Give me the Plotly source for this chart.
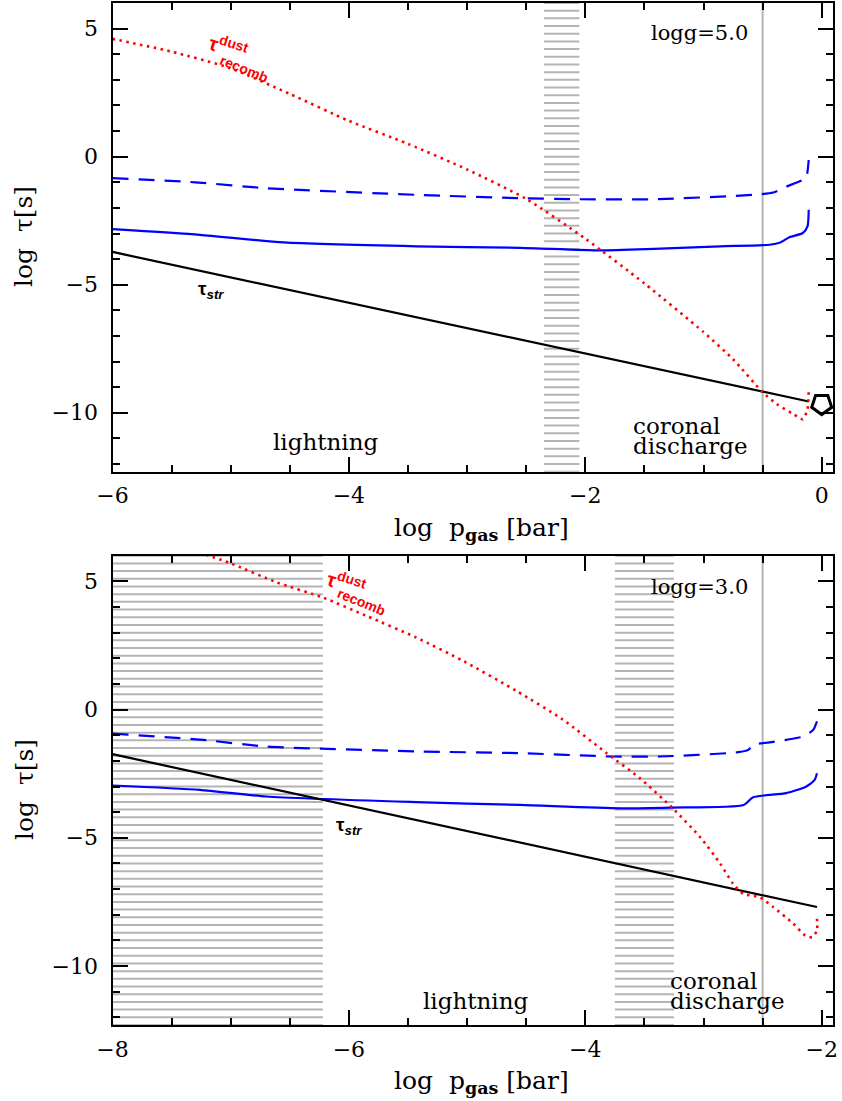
import numpy as np
import plotly.graph_objects as go

# ---------------- data ----------------
# Panel 1: logg = 5.0
tstr5_x = [-6.0, -0.11]
tstr5_y = [-3.72, -9.56]

red5_x = [-6.0, -5.5, -5.0, -4.5, -4.0, -3.5, -3.0, -2.5, -2.0, -1.5, -1.0, -0.75, -0.5, -0.38, -0.24, -0.16, -0.12, -0.11]
red5_y = [4.6, 4.1, 3.45, 2.45, 1.4, 0.5, -0.5, -1.65, -3.2, -4.95, -6.85, -7.91, -9.2, -9.66, -10.05, -10.25, -9.86, -9.14]

dash5_x = [-6.0, -5.3, -4.7, -3.43, -2.55, -2.1, -1.42, -0.58, -0.41, -0.30, -0.16, -0.13, -0.11]
dash5_y = [-0.84, -1.0, -1.23, -1.49, -1.62, -1.66, -1.66, -1.49, -1.40, -1.17, -0.91, -0.80, -0.13]

solid5_x = [-6.0, -5.26, -4.55, -3.43, -2.55, -1.88, -1.42, -0.86, -0.44, -0.35, -0.27, -0.16, -0.12, -0.11]
solid5_y = [-2.83, -3.05, -3.35, -3.50, -3.56, -3.66, -3.60, -3.50, -3.44, -3.35, -3.14, -2.98, -2.72, -2.07]

marker5_x = [0.0]
marker5_y = [-9.66]

hatch5 = [(-2.35, -2.05)]
vline5 = -0.5

# Panel 2: logg = 3.0
tstr3_x = [-8.0, -2.04]
tstr3_y = [-1.74, -7.70]

red3_x = [-7.21, -7.01, -6.61, -6.22, -5.85, -5.43, -5.03, -4.58, -4.19, -3.82, -3.54, -3.26, -3.02,
          -2.86, -2.75, -2.66, -2.59, -2.52, -2.41, -2.24, -2.14, -2.08, -2.04, -2.04]
red3_y = [6.04, 5.72, 4.96, 4.37, 3.65, 2.81, 1.89, 0.72, -0.39, -1.70, -2.67, -3.85, -5.02,
          -6.0, -6.79, -7.20, -7.25, -7.33, -7.70, -8.35, -8.81, -8.88, -8.61, -8.16]

dash3_x = [-8.0, -7.26, -6.70, -5.43, -4.55, -3.76, -3.37, -2.72, -2.62, -2.58, -2.44, -2.15, -2.07, -2.04]
dash3_y = [-0.94, -1.17, -1.44, -1.63, -1.70, -1.83, -1.83, -1.67, -1.57, -1.37, -1.28, -1.04, -0.78, -0.46]

solid3_x = [-8.0, -7.26, -6.70, -5.43, -4.55, -3.71, -3.28, -2.66, -2.58, -2.30, -2.13, -2.06, -2.04]
solid3_y = [-2.96, -3.13, -3.39, -3.61, -3.72, -3.85, -3.82, -3.72, -3.42, -3.26, -3.00, -2.74, -2.48]

hatch3 = [(-8.0, -6.22), (-3.75, -3.25)]
vline3 = -2.5

xrange5 = [-6.0, 0.093]
xrange3 = [-8.0, -1.907]
yrange = [-12.3, 6.0]

# ---------------- styling ----------------
SERIF = "DejaVu Serif"
SANS = "Liberation Sans"
GRAY = "#b4b4b4"
W, H = 842, 1101

fig = go.Figure()


def hatch_trace(regions, xa, ya):
    levels = np.arange(yrange[1], yrange[0] - 0.001, -0.3)
    xs, ys = [], []
    for (a, b) in regions:
        for lv in levels:
            xs += [a, b, None]
            ys += [lv, lv, None]
    return go.Scatter(x=xs, y=ys, mode="lines", line=dict(color=GRAY, width=2),
                      xaxis=xa, yaxis=ya, hoverinfo="skip", showlegend=False)


def vline_trace(x0, xa, ya):
    return go.Scatter(x=[x0, x0], y=yrange, mode="lines", line=dict(color=GRAY, width=2),
                      xaxis=xa, yaxis=ya, showlegend=False)


for (hatch, vl, tx, ty, rx, ry, dx, dy, sx, sy, xa, ya) in [
    (hatch5, vline5, tstr5_x, tstr5_y, red5_x, red5_y, dash5_x, dash5_y, solid5_x, solid5_y, "x", "y"),
    (hatch3, vline3, tstr3_x, tstr3_y, red3_x, red3_y, dash3_x, dash3_y, solid3_x, solid3_y, "x2", "y2"),
]:
    fig.add_trace(hatch_trace(hatch, xa, ya))
    fig.add_trace(vline_trace(vl, xa, ya))
    fig.add_trace(go.Scatter(x=sx, y=sy, mode="lines", line=dict(color="blue", width=2.2, shape="spline", smoothing=0.6),
                             xaxis=xa, yaxis=ya, showlegend=False))
    fig.add_trace(go.Scatter(x=dx, y=dy, mode="lines", line=dict(color="blue", width=2.2, dash="16px,10px", shape="spline", smoothing=0.6),
                             xaxis=xa, yaxis=ya, showlegend=False))
    fig.add_trace(go.Scatter(x=tx, y=ty, mode="lines", line=dict(color="black", width=2.2),
                             xaxis=xa, yaxis=ya, showlegend=False))
    fig.add_trace(go.Scatter(x=rx, y=ry, mode="lines", line=dict(color="red", width=2.6, dash="2.5px,4.5px", shape="spline", smoothing=0.6),
                             xaxis=xa, yaxis=ya, showlegend=False))

fig.add_trace(go.Scatter(x=marker5_x, y=marker5_y, mode="markers",
                         marker=dict(symbol="pentagon-open", size=21, angle=180,
                                     line=dict(color="black", width=3), color="black"),
                         xaxis="x", yaxis="y", showlegend=False, cliponaxis=False))

xdom = [112.5 / W, 832.7 / W]
ydom_top = [1 - 471.7 / H, 1 - 3.0 / H]
ydom_bot = [1 - 1025.0 / H, 1 - 555.7 / H]

axis_common = dict(
    showgrid=False, zeroline=False, showline=True, linecolor="black", linewidth=2.4,
    mirror="ticks", ticks="inside", ticklen=15, tickwidth=2, tickcolor="black",
    tickfont=dict(family=SERIF, size=22, color="black"), automargin=False,
)
xminor = dict(dtick=0.5, ticklen=7, tickwidth=1.5, tickcolor="black", ticks="inside")
yminor = dict(dtick=1, ticklen=7, tickwidth=1.5, tickcolor="black", ticks="inside")

fig.update_layout(
    width=W, height=H,
    margin=dict(l=0, r=0, t=0, b=0, autoexpand=False),
    paper_bgcolor="white", plot_bgcolor="white",
    showlegend=False,
    xaxis=dict(domain=xdom, range=xrange5, anchor="y", tick0=0, dtick=2, minor=xminor,
               ticklabelstandoff=3, **axis_common),
    yaxis=dict(domain=ydom_top, range=yrange, anchor="x", tick0=0, dtick=5, minor=yminor,
               ticklabelstandoff=8, **axis_common),
    xaxis2=dict(domain=xdom, range=xrange3, anchor="y2", tick0=0, dtick=2, minor=xminor,
                ticklabelstandoff=3, **axis_common),
    yaxis2=dict(domain=ydom_bot, range=yrange, anchor="x2", tick0=0, dtick=5, minor=yminor,
                ticklabelstandoff=8, **axis_common),
)

ann = []


def txt(x, y, text, xref, yref, size=21, family=SERIF, color="black", angle=0, xanchor="center", yanchor="middle"):
    ann.append(dict(x=x, y=y, xref=xref, yref=yref, text=text, showarrow=False,
                    font=dict(family=family, size=size, color=color), textangle=angle,
                    xanchor=xanchor, yanchor=yanchor))


TAU_D = "<b>τ<sup>dust</sup></b>"
TAU_S = "<b>τ<sub><i>str</i></sub></b>"

# panel 1 labels
txt(-1.03, 4.81, "logg=5.0", "x", "y", size=21)
txt(-4.20, -11.15, "lightning", "x", "y", size=23)
txt(-1.61, -10.52, "coronal", "x", "y", size=23, xanchor="left")
txt(-1.61, -11.31, "discharge", "x", "y", size=23, xanchor="left")
txt(-5.02, 4.30, TAU_D, "x", "y", size=20, family=SANS, color="red", angle=18)
txt(-4.88, 3.44, "<b>recomb</b>", "x", "y", size=14, family=SANS, color="red", angle=22)
txt(-5.17, -5.19, TAU_S, "x", "y", size=19, family=SANS)

# panel 2 labels
txt(-3.03, 4.79, "logg=3.0", "x2", "y2", size=21)
txt(-4.93, -11.35, "lightning", "x2", "y2", size=23)
txt(-3.30, -10.59, "coronal", "x2", "y2", size=23, xanchor="left")
txt(-3.30, -11.35, "discharge", "x2", "y2", size=23, xanchor="left")
txt(-6.02, 4.95, TAU_D, "x2", "y2", size=20, family=SANS, color="red", angle=18)
txt(-5.89, 4.18, "<b>recomb</b>", "x2", "y2", size=14, family=SANS, color="red", angle=22)
txt(-6.00, -4.55, TAU_S, "x2", "y2", size=19, family=SANS)

# axis titles
xt = "log  p<sub><b>gas</b></sub> [bar]"
yt = "log  τ[s]"
txt(481 / W, 1 - 529 / H, xt, "paper", "paper", size=25)
txt(481 / W, 1 - 1082 / H, xt, "paper", "paper", size=25)
txt(24 / W, 1 - 237 / H, yt, "paper", "paper", size=25, angle=-90)
txt(24 / W, 1 - 790 / H, yt, "paper", "paper", size=25, angle=-90)

fig.update_layout(annotations=ann)

fig.write_html("out.html", config={"displayModeBar": False},
               post_script="document.body.style.margin='0px';")
